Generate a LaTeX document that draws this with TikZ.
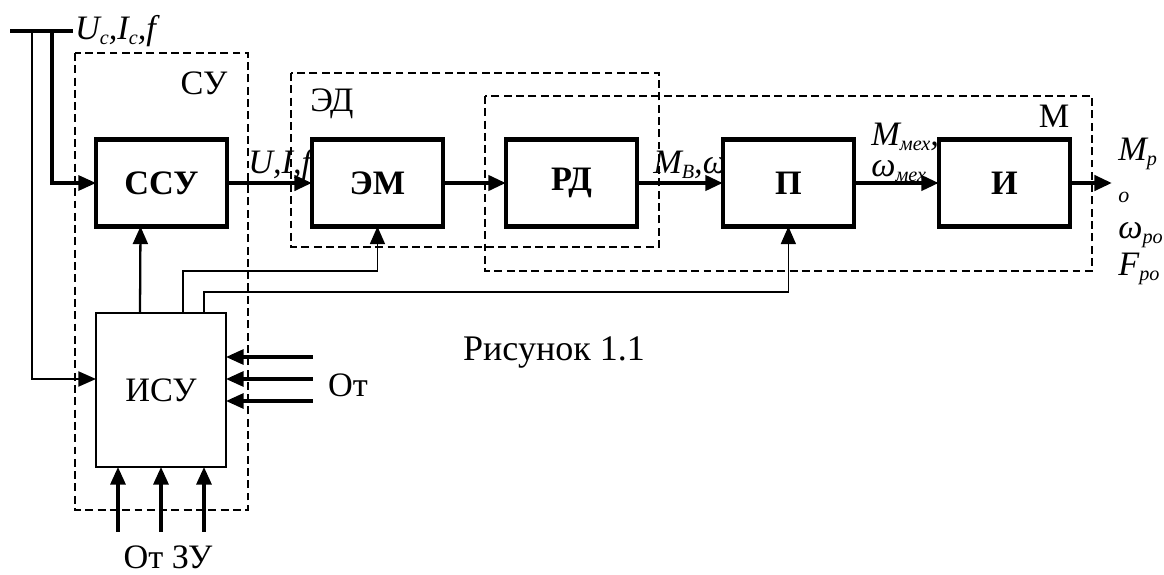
\documentclass[tikz,border=0pt]{standalone}
\usepackage{fontspec}
\setmainfont{Liberation Serif}
\usetikzlibrary{arrows.meta,positioning,calc}
\newcommand\bigsz{\fontsize{19.5}{22}\selectfont}
\newcommand\lsub[1]{\raisebox{-0.35ex}{\fontsize{11.5}{13}\selectfont #1}}

\tikzset{
  blk/.style={draw, fill=white, line width=2.4pt, outer sep=0pt, minimum width=2.62cm, minimum height=1.74cm, font=\bigsz\bfseries},
  ctl/.style={draw, fill=white, line width=1.1pt, outer sep=0pt, minimum width=2.6cm, minimum height=3.08cm, font=\bigsz},
  zone/.style={line width=1.1pt, dash pattern=on 4.5pt off 2.5pt},
  sig/.style={line width=2.4pt, -{Triangle[length=10pt,width=8.5pt]}},
  feed/.style={line width=1.8pt, -{Triangle[length=10pt,width=8.5pt]}},
  aux/.style={line width=1pt, -{Triangle[length=10pt,width=8.5pt]}},
  lbl/.style={font=\bigsz\itshape, inner sep=0pt},
  txt/.style={font=\bigsz, inner sep=0pt},
}

\begin{document}
\begin{tikzpicture}[x=0.02cm, y=-0.02cm]
  \useasboundingbox (0,0) rectangle (1164,575);
  % dashed zones
  \draw[zone] (75,53) rectangle (248,510);
  \draw[zone] (291,73) rectangle (659,247);
  \draw[zone] (485,96) rectangle (1092,271);
  \node[txt] (su) at (204,83) {СУ};
  \node[txt] (ed) at (332,104) {ЭД};
  \node[txt] (mz) at (1054,116) {М};

  % signal labels
  \node[lbl, anchor=base west] (uif) at (248,173) {U,I,f};
  \node[lbl, anchor=base west] (mb) at (653,173) {M\lsub{B},ω\lsub{B}};
  \node[lbl, anchor=base west] (mmex) at (871,145) {M\lsub{мех},};
  \node[lbl, anchor=base west] (wmex) at (871,176) {ω\lsub{мех}};
  \node[lbl, anchor=base west] (mp) at (1118,160) {M\lsub{p}};
  \node[anchor=base west, inner sep=0pt, font=\fontsize{12.5}{14}\selectfont\itshape] (mo) at (1118,202) {o};
  \node[lbl, anchor=base west] (wp) at (1118,238) {ω\lsub{po}};
  \node[lbl, anchor=base west] (fp) at (1118,275) {F\lsub{po}};

  % blocks
  \node[blk] (ssu) at (161.5,183) {ССУ};
  \node[blk, right=1.7cm of ssu] (em) {ЭМ};
  \node[blk, right=1.26cm of em] (rd) {РД};
  \node[blk, right=1.72cm of rd] (per) {П};
  \node[blk, right=1.7cm of per] (isp) {И};
  \node[ctl] (isu) at (161,390) {ИСУ};

  % supply bus
  \coordinate (src) at (10,31);
  \coordinate (tapA) at (32,31);
  \coordinate (tapB) at (52,31);
  \coordinate (busend) at (73,31);
  \coordinate (out) at (1112,183);
  \draw[line width=2.4pt] (src) -- (busend);
  \node[lbl, anchor=west, inner sep=1pt] (uin) at (busend) {U\lsub{c},I\lsub{c},f};
  \draw[aux, line width=1.2pt] (tapA) |- ($(isu.west)+(0,-11)$);
  \draw[feed] (tapB) |- (ssu.west);

  % main chain
  \draw[sig] (ssu) -- (em);
  \draw[sig] (em) -- (rd);
  \draw[sig] (rd) -- (per);
  \draw[sig] (per) -- (isp);
  \draw[sig] (isp) -- (out);

  % control links
  \draw[aux, line width=1.3pt] ($(isu.north)+(-21,0)$) -- ($(ssu.south)+(-21,0)$);
  \draw[aux] ($(isu.north)+(22,0)$) -- ++(0,-42) -| (em.south);
  \draw[aux] ($(isu.north)+(43,0)$) -- ++(0,-21) -| (per.south);
  \foreach \dy in {-33,-11,11}
    \draw[feed] ($(isu.east)+(87,\dy)$) -- ($(isu.east)+(0,\dy)$);
  \foreach \dx in {-43,0,43}
    \draw[feed] ($(isu.south)+(\dx,65)$) -- ($(isu.south)+(\dx,0)$);
  \node[txt] (ot) at (348,385) {От};
  \node[txt] (otzu) at (168,557) {От ЗУ};

  \node[font=\fontsize{20.5}{24}\selectfont, inner sep=0pt] (cap) at (554,352) {Рисунок 1.1};
\end{tikzpicture}
\end{document}
